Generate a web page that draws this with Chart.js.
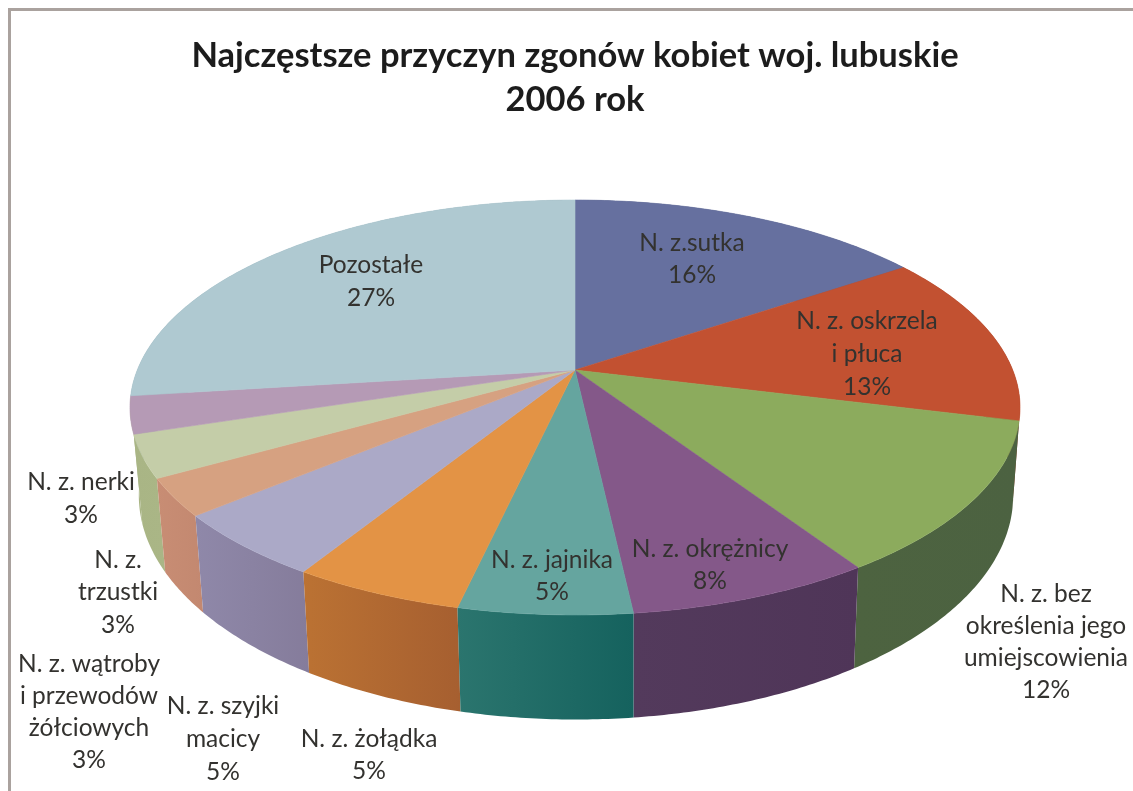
<!DOCTYPE html>
<html lang="pl">
<head>
<meta charset="utf-8">
<title>Najczęstsze przyczyn zgonów kobiet</title>
<script src="https://cdn.jsdelivr.net/npm/chart.js@4"></script>
<style>
html,body{margin:0;padding:0;background:#fff;overflow:hidden}
#frame{position:absolute;left:8px;top:8px;right:0;bottom:0;border-left:3px solid #aaa29e;border-top:3px solid #aaa29e}
canvas{position:absolute;left:0;top:0;display:block}
</style>
</head>
<body>
<div id="frame"></div>
<canvas id="c" width="1133" height="791"></canvas>
<script>
const titleLines = ["Najczęstsze przyczyn zgonów kobiet woj. lubuskie", "2006 rok"];
const categories = [
  ["N. z.sutka"],
  ["N. z. oskrzela", "i płuca"],
  ["N. z. bez", "określenia jego", "umiejscowienia"],
  ["N. z. okrężnicy"],
  ["N. z. jajnika"],
  ["N. z. żołądka"],
  ["N. z. szyjki", "macicy"],
  ["N. z. wątroby", "i przewodów", "żółciowych"],
  ["N. z.", "trzustki"],
  ["N. z. nerki"],
  ["Pozostałe"]
];
const values = [15.5, 13.4, 11.85, 7.5, 5.3, 5.25, 5.1, 2.9, 3.3, 2.9, 27];
const topColors = ["#66709f","#c25131","#8cab5d","#845889","#65a59f","#e39345","#aba9c7","#d6a181","#c4cda8","#b59ab5","#afc9d1"];
const wallColors = [
  ["#4a5478","#4a5478"],["#8f3b24","#8f3b24"],["#4d6340","#4c6241"],["#533a5c","#4f3558"],
  ["#2b756e","#15625e"],["#bb7233","#a65f30"],["#8f88a9","#857c9b"],["#c88d74","#c38870"],
  ["#a9b585","#aab686"],["#a9b585","#a9b585"],["#8aa2a9","#8aa2a9"]
];
// label centre x, first-line centre y, line step
const labelPlaces = [
  [692,243,32],[867,321,33],[1046,594,32],[710,549,32],[552,560,32],[369,739,32],
  [223,706,33],[89,664,32],[118,560,32.5],[81,482,33],[371,265,33]
];

// perspective of the pie disc
const TOP = {cx:575, cy:370, A:437.7, B:200.7, k:0.1807};
const BOT = {cx:576, cy:455, A:430, B:216.7, k:0.1807};
function project(p, a){
  const t = a + Math.PI/2, u = Math.sin(t), v = Math.cos(t), w = 1 + p.k*v;
  return [p.cx + p.A*u/w, p.cy - p.B*v/w];
}
function arcPts(p, a0, a1){
  const n = Math.max(4, Math.ceil((a1-a0)/0.01)), pts = [];
  for(let i=0;i<=n;i++) pts.push(project(p, a0 + (a1-a0)*i/n));
  return pts;
}
const pie3d = {
  id:'pie3d',
  beforeDatasetDraw(){ return false; },
  afterDatasetsDraw(chart){
    const ctx = chart.ctx, arcs = chart.getDatasetMeta(0).data;
    const order = arcs.map((el,i)=>i).sort((a,b)=>{
      const mid = e => Math.cos((e.startAngle+e.endAngle)/2 + Math.PI/2);
      return mid(arcs[b]) - mid(arcs[a]);
    });
    ctx.save();
    order.forEach(i=>{
      const el = arcs[i];
      const t = arcPts(TOP, el.startAngle, el.endAngle), b = arcPts(BOT, el.startAngle, el.endAngle);
      const xs = t.concat(b).map(q=>q[0]);
      const g = ctx.createLinearGradient(Math.min(...xs),0,Math.max(...xs),0);
      g.addColorStop(0, wallColors[i][0]); g.addColorStop(1, wallColors[i][1]);
      ctx.beginPath();
      t.forEach((q,j)=> j? ctx.lineTo(q[0],q[1]) : ctx.moveTo(q[0],q[1]));
      b.reverse().forEach(q=>ctx.lineTo(q[0],q[1]));
      ctx.closePath();
      ctx.fillStyle = g; ctx.fill();
    });
    const c = [TOP.cx, TOP.cy];
    arcs.forEach((el,i)=>{
      const t = arcPts(TOP, el.startAngle, el.endAngle);
      ctx.beginPath(); ctx.moveTo(c[0],c[1]);
      t.forEach(q=>ctx.lineTo(q[0],q[1]));
      ctx.closePath();
      ctx.fillStyle = el.options.backgroundColor; ctx.fill();
      ctx.strokeStyle = el.options.backgroundColor; ctx.lineWidth = 0.6; ctx.stroke();
    });
    ctx.font = '24.5px Lato';
    ctx.textAlign = 'center'; ctx.textBaseline = 'middle';
    ctx.fillStyle = '#33322f';
    categories.forEach((lines,i)=>{
      const [x,y,s] = labelPlaces[i];
      lines.concat(Math.round(values[i])+'%').forEach((ln,j)=>ctx.fillText(ln,x,y+j*s));
    });
    ctx.restore();
  }
};
new Chart(document.getElementById('c'), {
  type:'pie',
  data:{labels:categories, datasets:[{data:values, backgroundColor:topColors, borderWidth:0}]},
  options:{
    responsive:false, animation:false, devicePixelRatio:1,
    layout:{padding:{left:17}},
    plugins:{
      legend:{display:false}, tooltip:{enabled:false},
      title:{display:true, fullSize:false, text:titleLines, color:'#1c1c1c',
        font:{family:'Lato', size:34.5, weight:'bold', lineHeight:1.3},
        padding:{top:33,bottom:0}}
    }
  },
  plugins:[pie3d]
});
</script>
</body>
</html>
